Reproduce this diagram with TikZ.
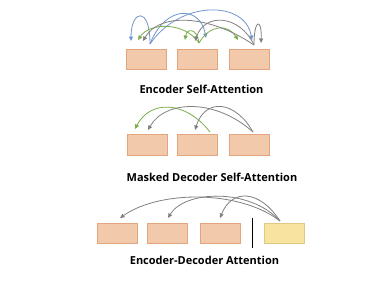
\documentclass[tikz,border=0pt]{standalone}
\usepackage{fontspec}
\setmainfont{Open Sans}
\usetikzlibrary{arrows.meta}
\definecolor{peach}{RGB}{243,201,172}
\definecolor{peachline}{RGB}{226,165,125}
\definecolor{yel}{RGB}{248,228,160}
\definecolor{yelline}{RGB}{222,200,130}
\definecolor{ablue}{RGB}{112,150,208}
\definecolor{agreen}{RGB}{122,172,72}
\definecolor{agray}{RGB}{128,128,128}
\tikzset{
  tok/.style={draw=peachline, fill=peach, line width=0.6pt, minimum width=40pt, minimum height=20pt, inner sep=0pt},
  ytok/.style={tok, draw=yelline, fill=yel},
  att/.style={line width=0.8pt, -{Triangle[length=4.5pt,width=4pt]}},
  lbl/.style={font=\bfseries\fontsize{11}{13}\selectfont, inner sep=0pt}
}
\begin{document}
\begin{tikzpicture}[x=1pt,y=-1pt]
\useasboundingbox (0,0) rectangle (367,281);
% top
\node[tok] (e1) at (146.5,59) {};
\node[tok] (e2) at (197,59) {};
\node[tok] (e3) at (249.5,59) {};
\node[lbl] (t1) at (201.5,89) {Encoder Self-Attention};
\coordinate (o1) at (150,44);
\coordinate (o2) at (199,43);
\coordinate (o3) at (254,45);
\coordinate (b1) at (131,41); \coordinate (b2) at (206,38); \coordinate (b3) at (252,40);
\coordinate (g1) at (138,40); \coordinate (g2) at (185,40); \coordinate (g3) at (238,40);
\coordinate (k1) at (143,41); \coordinate (k2) at (195,41); \coordinate (k3) at (261,43);
\draw[att, ablue] (o1) .. controls (150,5) and (131,10) .. (b1);
\draw[att, ablue] (o1) .. controls (165,5) and (200,5) .. (b2);
\draw[att, ablue] (o1) .. controls (180,0) and (245,0) .. (b3);
\draw[att, agreen] (o2) .. controls (185,22) and (150,22) .. (g1);
\draw[att, agreen] (o2) .. controls (197,28) and (187,28) .. (g2);
\draw[att, agreen] (o2) .. controls (210,24) and (228,24) .. (g3);
\draw[att, agray] (o3) .. controls (210,15) and (160,12) .. (k1);
\draw[att, agray] (o3) .. controls (240,15) and (205,12) .. (k2);
\draw[att, agray] (o3) .. controls (254,18) and (262,18) .. (k3);
% middle
\node[tok, minimum height=21pt] (m1) at (147,144.5) {};
\node[tok, minimum height=21pt] (m2) at (197.5,144.5) {};
\node[tok, minimum height=21pt] (m3) at (249.5,144.5) {};
\node[lbl] (t2) at (212,177.5) {Masked Decoder Self-Attention};
\coordinate (mo2) at (210,132);
\coordinate (mo3) at (253,132);
\coordinate (mg1) at (135,129);
\coordinate (mk1) at (148,130);
\coordinate (mk2) at (195,130);
\draw[att, agreen] (mo2) .. controls (185,100) and (150,100) .. (mg1);
\draw[att, agray] (mo3) .. controls (215,98) and (165,100) .. (mk1);
\draw[att, agray] (mo3) .. controls (235,100) and (205,98) .. (mk2);
% bottom
\node[tok] (d1) at (117,233) {};
\node[tok] (d2) at (167.5,233) {};
\node[tok] (d3) at (220,233) {};
\node[ytok] (y1) at (284.5,233) {};
\coordinate (s1) at (252,218);
\coordinate (s2) at (252,248);
\draw[black, line width=0.9pt] (s1) -- (s2);
\node[lbl] (t3) at (204.5,260) {Encoder-Decoder Attention};
\coordinate (yo) at (280,221);
\coordinate (dk1) at (120,218);
\coordinate (dk2) at (168,218);
\coordinate (dk3) at (220,218);
\draw[att, agray] (yo) .. controls (240,190) and (160,190) .. (dk1);
\draw[att, agray] (yo) .. controls (250,188) and (185,190) .. (dk2);
\draw[att, agray] (yo) .. controls (260,190) and (232,188) .. (dk3);
\end{tikzpicture}
\end{document}
